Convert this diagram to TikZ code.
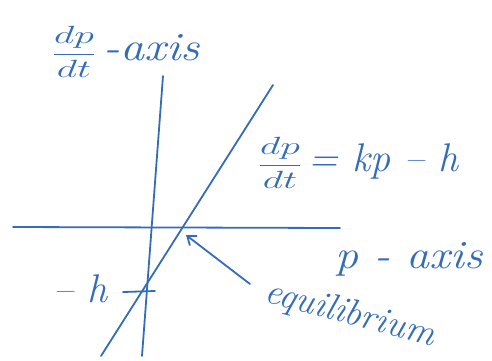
\documentclass[tikz,border=0pt]{standalone}
\usetikzlibrary{arrows.meta}
\definecolor{ink}{RGB}{52,108,184}
\newcommand{\hfr}[2]{\scalebox{1.6}[1]{\fontsize{24}{28}\selectfont$\displaystyle\frac{#1}{#2}$}}
\newcommand{\wide}[1]{\scalebox{1.2}[1]{#1}}
\begin{document}
\begin{tikzpicture}[x=1pt,y=-1pt,
  pen/.style={draw=ink,line width=1.8pt,line cap=round},
  lbl/.style={text=ink,font=\fontsize{40}{46}\selectfont\itshape,inner sep=0pt}]
\useasboundingbox (0,0) rectangle (492,360);
% axes
\coordinate (vt) at (163,76);
\coordinate (vb) at (142,356);
\coordinate (hl) at (13,227);
\coordinate (hr) at (340,228);
\draw[pen] (vt) -- (vb);
\draw[pen] (hl) -- (hr);
% slanted line dp/dt = kp - h
\coordinate (st) at (273,85);
\coordinate (sb) at (101,356);
\draw[pen] (st) -- (sb);
\coordinate (eq) at (186,235);
% tick at -h
\coordinate (tl) at (123,292);
\coordinate (tr) at (155,291);
\draw[pen] (tl) -- (tr);
% labels
\node[lbl,anchor=west] (ylab) at (52,52) {\hfr{dp}{dt}\hspace{8pt}\wide{-axis}};
\node[lbl,anchor=west] (eqn) at (258,163) {\hfr{dp}{dt}\,= kp – h};
\node[lbl,anchor=base west] (plab) at (335,268) {\scalebox{1.15}[1]{p - axis}};
\node[lbl,anchor=base east] (hlab) at (108,302) {– h};
\node[lbl,font=\fontsize{37}{42}\selectfont\itshape,rotate=-15] (elab) at (350,315) {equilibrium};
\coordinate (ea) at (250,284);
\draw[pen,-{Straight Barb[length=8pt,width=12pt]}] (ea) -- (eq);
\end{tikzpicture}
\end{document}
